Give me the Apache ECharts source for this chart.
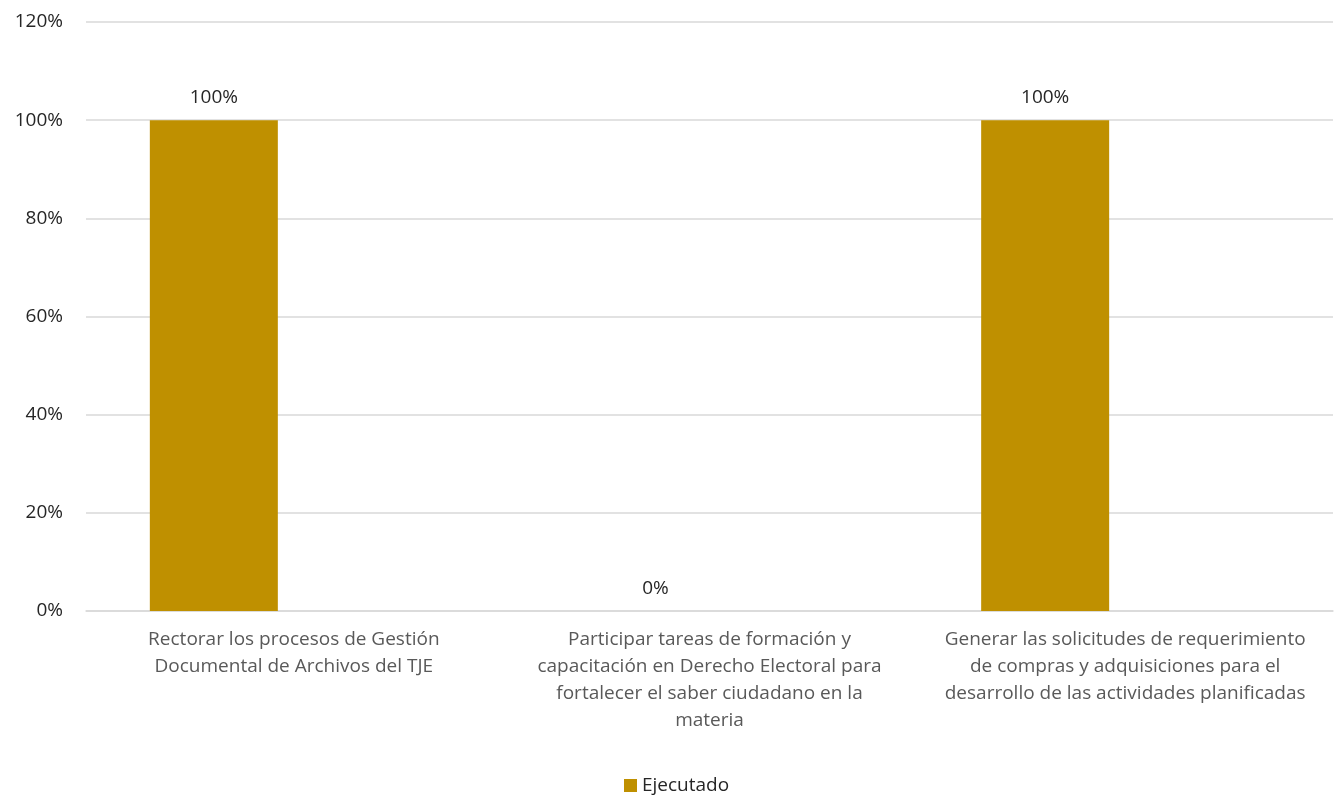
<!DOCTYPE html>
<html><head><meta charset="utf-8">
<script src="https://cdn.jsdelivr.net/npm/echarts@6/dist/echarts.min.js"></script>
<style>html,body{margin:0;padding:0;background:#fff}#c{width:1338px;height:796px}</style>
</head><body><div id="c"></div>
<script>
const categories = [
  "Rectorar los procesos de Gestión\nDocumental de Archivos del TJE",
  "Participar tareas de formación y\ncapacitación en Derecho Electoral para\nfortalecer el saber ciudadano en la\nmateria",
  "Generar las solicitudes de requerimiento\nde compras y adquisiciones para el\ndesarrollo de las actividades planificadas"
];
const ejecutado = [1, 0, 1];
const yTicks = { min: 0, max: 1.2, interval: 0.2 };
const FONT = "Open Sans";
const chart = echarts.init(document.getElementById('c'));
const pct = v => Math.round(v * 100) + '%';
chart.setOption({
  animation: false,
  textStyle: { fontFamily: FONT },
  grid: { left: 86, right: 5, top: 22, bottom: 185 },
  legend: {
    data: ['Ejecutado'], top: 776, left: 624, padding: 0, icon: 'rect',
    itemWidth: 13, itemHeight: 13, itemGap: 7,
    textStyle: { fontFamily: FONT, fontSize: 19, color: '#262626' }
  },
  xAxis: {
    type: 'category', data: categories,
    axisLine: { lineStyle: { color: '#d9d9d9', width: 1.5 } },
    axisTick: { show: false },
    axisLabel: { interval: 0, color: '#595959', fontSize: 19, lineHeight: 27, margin: 15, fontFamily: FONT }
  },
  yAxis: {
    type: 'value', min: yTicks.min, max: yTicks.max, interval: yTicks.interval,
    axisLine: { show: false }, axisTick: { show: false },
    axisLabel: { formatter: pct, color: '#262626', fontSize: 19, margin: 23, fontFamily: FONT },
    splitLine: { lineStyle: { color: '#d9d9d9', width: 1.5 } }
  },
  series: [
    {
      name: 'Ejecutado', type: 'bar', barWidth: 128, barGap: '25%',
      data: ejecutado.map(v => v === 0 ? { value: v, label: { offset: [26, 0] } } : v),
      itemStyle: { color: '#BF9000' },
      label: { show: true, position: 'top', distance: 13, formatter: p => pct(p.value), color: '#262626', fontSize: 19, fontFamily: FONT }
    },
    {
      name: 'hidden', type: 'bar', data: categories.map(() => null), barWidth: 128,
      itemStyle: { color: 'transparent' }
    }
  ]
});
</script></body></html>
